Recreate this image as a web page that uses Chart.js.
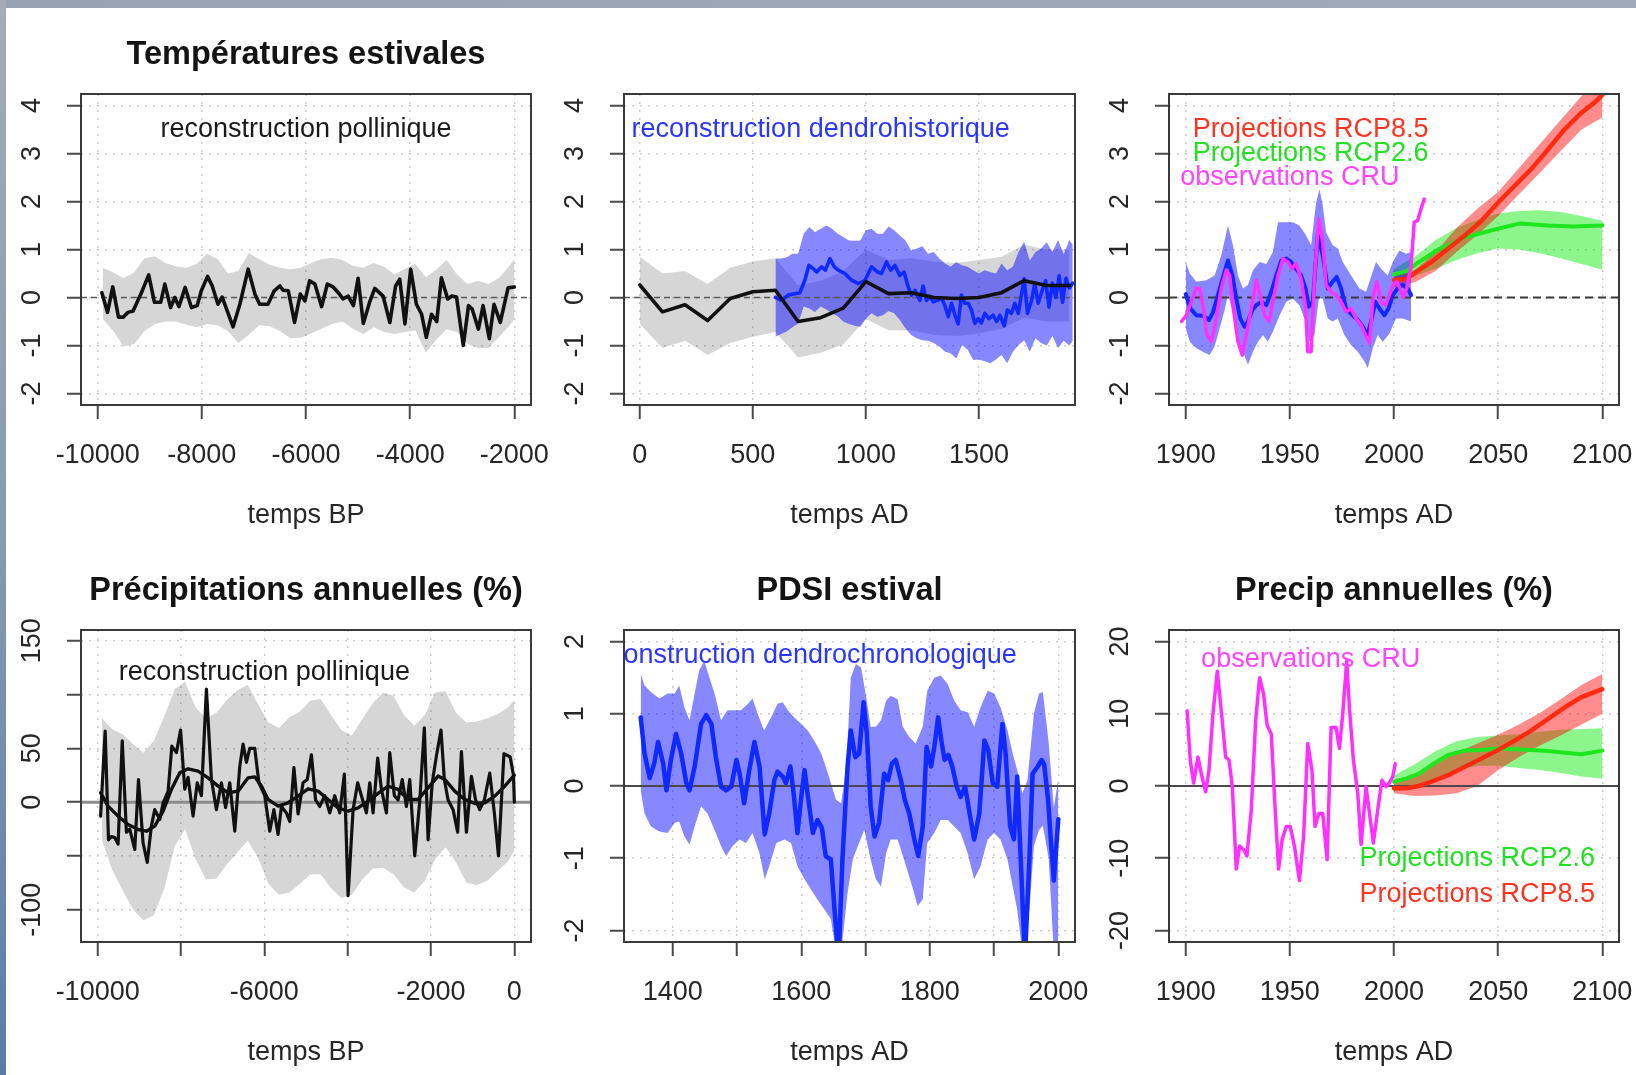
<!DOCTYPE html>
<html><head><meta charset="utf-8">
<script src="https://cdn.jsdelivr.net/npm/chart.js@4/dist/chart.umd.min.js"></script>
<style>
html,body{margin:0;padding:0;width:1636px;height:1075px;overflow:hidden;background:#fff;}
#topbar{position:absolute;left:0;top:0;width:1636px;height:8px;background:linear-gradient(to right,#97a3b2,#9fabb8);}
#leftbar{position:absolute;left:0;top:0;width:6px;height:1075px;background:linear-gradient(to bottom,#a3acb8,#8899b0 50%,#5a7cab);}
canvas{position:absolute;}
</style></head><body>
<div id="topbar"></div><div id="leftbar"></div>
<script>
// ================= DATA =================
// Panel 1 : Températures estivales, reconstruction pollinique (temps BP)
const p1Years = [-9920,-9810,-9710,-9600,-9510,-9420,-9320,-9160,-9020,-8910,-8790,-8710,-8600,-8520,-8440,-8320,-8200,-8090,-8010,-7890,-7800,-7690,-7610,-7400,-7270,-7110,-6980,-6890,-6730,-6610,-6500,-6440,-6340,-6220,-6110,-6020,-5930,-5830,-5700,-5590,-5480,-5380,-5290,-5190,-5090,-5000,-4900,-4770,-4680,-4520,-4390,-4280,-4200,-4100,-3990,-3880,-3780,-3690,-3590,-3490,-3400,-3280,-3200,-3110,-2980,-2880,-2810,-2690,-2600,-2480,-2390,-2270,-2120,-2000];
const p1Temp = [0.10,-0.31,0.22,-0.41,-0.41,-0.31,-0.28,0.10,0.47,-0.10,-0.10,0.28,-0.21,0.0,-0.19,0.21,-0.21,-0.17,0.14,0.44,0.24,-0.14,0.01,-0.61,-0.14,0.59,0.07,-0.14,-0.14,0.14,0.24,0.15,0.14,-0.52,0.07,-0.07,0.35,0.28,-0.19,0.28,0.22,0.10,-0.03,0.03,-0.17,0.40,-0.54,-0.07,0.19,0.03,-0.52,0.24,0.38,-0.55,0.59,-0.14,-0.35,-0.83,-0.35,-0.50,0.41,-0.03,0.03,0.01,-1.0,-0.17,-0.24,-0.66,-0.17,-0.86,-0.14,-0.52,0.2,0.22];
const p1BandYears = [-9900,-9700,-9500,-9300,-9100,-8900,-8700,-8500,-8300,-8100,-7900,-7700,-7500,-7300,-7100,-6900,-6700,-6500,-6300,-6100,-5900,-5700,-5500,-5300,-5100,-4900,-4700,-4500,-4300,-4100,-3900,-3700,-3500,-3300,-3100,-2900,-2700,-2500,-2300,-2100,-2000];
const p1BandHigh = [0.62,0.52,0.40,0.52,0.82,0.86,0.72,0.65,0.62,0.70,0.91,0.80,0.50,0.55,0.92,0.80,0.68,0.62,0.59,0.62,0.72,0.80,0.83,0.78,0.66,0.62,0.72,0.64,0.48,0.60,0.70,0.42,0.58,0.78,0.48,0.28,0.35,0.28,0.40,0.65,0.80];
const p1BandLow = [-0.45,-0.70,-1.02,-0.97,-0.70,-0.55,-0.50,-0.50,-0.57,-0.62,-0.55,-0.58,-0.70,-0.95,-0.78,-0.58,-0.60,-0.70,-0.85,-0.84,-0.75,-0.65,-0.55,-0.50,-0.65,-0.76,-0.62,-0.72,-0.76,-0.72,-0.68,-1.15,-0.88,-0.66,-0.72,-0.97,-1.05,-1.05,-0.83,-0.60,-0.45];

// Panel 2 : reconstruction dendrohistorique (temps AD)
const p2PollenYears = [0,100,200,300,400,500,600,700,800,900,1000,1100,1200,1300,1400,1500,1600,1700,1800,1900];
const p2Pollen = [0.26,-0.30,-0.15,-0.48,-0.02,0.12,0.15,-0.50,-0.42,-0.22,0.33,0.08,0.10,0.0,-0.02,0.0,0.10,0.35,0.25,0.25];
const p2PollenHigh = [0.85,0.5,0.55,0.28,0.62,0.75,0.82,0.25,0.35,0.55,1.0,0.78,0.82,0.75,0.72,0.78,0.85,1.1,1.0,1.0];
const p2PollenLow = [-0.55,-1.05,-0.9,-1.2,-0.95,-0.82,-0.72,-1.25,-1.15,-0.98,-0.45,-0.68,-0.68,-0.78,-0.8,-0.75,-0.65,-0.42,-0.5,-0.5];
const p2DendroYears = [600,627,656,686,708,730,748,767,782,804,821,841,860,878,907,937,966,995,1025,1052,1069,1091,1110,1128,1150,1169,1187,1202,1217,1239,1253,1268,1283,1298,1317,1335,1349,1364,1379,1394,1408,1423,1438,1453,1467,1482,1497,1511,1526,1544,1563,1578,1593,1612,1626,1644,1659,1674,1688,1700,1715,1733,1747,1762,1780,1795,1810,1825,1840,1855,1870,1885,1900,1915];
const p2Dendro = [0.0,-0.06,0.05,0.08,0.10,0.36,0.67,0.60,0.53,0.64,0.57,0.81,0.64,0.57,0.50,0.36,0.29,0.35,0.64,0.53,0.50,0.74,0.57,0.67,0.46,0.53,0.22,0.05,0.15,-0.06,0.24,-0.06,0.03,-0.09,-0.06,-0.02,-0.16,-0.40,-0.12,-0.37,-0.55,0.05,-0.12,-0.12,-0.26,-0.54,-0.44,-0.53,-0.33,-0.44,-0.37,-0.50,-0.37,-0.59,-0.26,-0.33,-0.12,-0.33,0.05,0.39,-0.33,-0.06,0.29,-0.12,0.15,0.35,-0.2,0.3,0.0,0.45,-0.1,0.4,0.2,0.3];
const p2DendroBandYears = [600,625,650,675,700,725,750,775,800,825,850,875,900,925,950,975,1000,1025,1050,1075,1100,1125,1150,1175,1200,1225,1250,1275,1300,1325,1350,1375,1400,1425,1450,1475,1500,1525,1550,1575,1600,1625,1650,1675,1700,1725,1750,1775,1800,1825,1850,1875,1900,1915];
const p2DendroHigh = [0.81,0.81,0.84,0.91,0.91,1.33,1.47,1.36,1.43,1.50,1.43,1.33,1.26,1.19,1.18,1.19,1.40,1.43,1.33,1.33,1.48,1.40,1.29,1.19,0.98,1.02,1.07,0.91,0.95,0.81,0.71,0.64,0.74,0.67,0.64,0.57,0.50,0.57,0.53,0.50,0.71,0.57,0.64,0.95,1.16,0.77,0.95,1.02,1.15,0.95,1.2,0.9,1.2,1.1];
const p2DendroLow = [-0.82,-0.76,-0.71,-0.62,-0.54,-0.19,-0.23,-0.30,-0.19,-0.25,-0.33,-0.39,-0.50,-0.55,-0.59,-0.61,-0.44,-0.33,-0.40,-0.37,-0.28,-0.33,-0.47,-0.64,-0.78,-0.85,-0.89,-0.90,-0.95,-1.02,-1.13,-1.16,-1.27,-0.99,-1.09,-1.30,-1.29,-1.33,-1.37,-1.29,-1.20,-1.37,-1.13,-0.99,-0.89,-1.13,-0.85,-0.95,-1.0,-0.8,-1.05,-0.9,-1.0,-0.9];

// Panel 3 : 1900-2100 temperature, observations + projections
const p3CruYears = [1898,1900.3,1902.7,1905.1,1906.7,1908.3,1910.2,1912.3,1914.7,1917.1,1919.5,1921.1,1922.7,1925.1,1927.2,1929.1,1931.5,1933.9,1935.8,1937.9,1940,1941.9,1944.3,1946.7,1949,1951.1,1953,1955.4,1957.5,1958.6,1960.2,1961.8,1963.9,1965.8,1967.4,1969.8,1972.2,1974.6,1977,1979.4,1981.8,1984.2,1986.3,1988.2,1990.1,1991.7,1993.8,1995.9,1997.8,1999.4,2001.3,2002.9,2004.5,2006.1,2008.2,2009.7,2011.3,2013,2014.5];
const p3Cru = [-0.50,-0.37,-0.09,0.20,0.19,-0.16,-0.78,-0.92,-0.44,0.19,0.57,0.46,-0.16,-0.92,-1.20,-0.78,-0.23,0.36,0.05,-0.37,-0.50,-0.09,0.46,0.81,0.74,0.60,0.71,0.39,-0.16,-1.13,-1.13,0.39,1.64,1.15,0.26,0.12,0.05,-0.09,-0.30,-0.23,-0.44,-0.57,-0.78,-0.95,0.05,0.33,-0.09,-0.16,0.05,0.26,0.33,0.19,0.01,0.19,0.67,1.57,1.60,1.85,2.05];
const p3DendroYears = [1900,1902.3,1905.1,1908.3,1911.2,1913.1,1915.5,1918.2,1920.3,1922.4,1924.3,1926.2,1928.3,1929.9,1932,1933.9,1936.3,1938.7,1941.1,1943.5,1945.9,1948.3,1950.6,1953,1955.4,1957.5,1959.1,1961,1963.4,1965.8,1968.2,1970.6,1972.5,1974.6,1977,1980.2,1982.6,1985,1987.4,1989,1991,1993,1995.4,1997.4,1999.4,2001.8,2004.2,2006.6,2008.2];
const p3Dendro = [0.07,-0.23,-0.37,-0.38,-0.47,-0.31,0.05,0.46,0.77,0.46,-0.02,-0.44,-0.61,-0.50,-0.26,-0.16,-0.09,-0.16,0.12,0.46,0.77,0.81,0.74,0.60,0.46,0.19,-0.19,-0.09,1.3,0.88,0.19,0.33,0.43,0.19,-0.23,-0.37,-0.47,-0.61,-0.78,-0.50,-0.09,-0.23,-0.37,-0.23,0.05,0.19,0.26,0.19,0.05];
const p3DendroHighYears = [1900,1902,1905.1,1909.9,1913.9,1917.1,1920.3,1922.7,1925.1,1927.5,1929.9,1932.3,1935.5,1938.7,1941.9,1944.3,1948.3,1951.4,1954.6,1957.8,1960.2,1962.6,1964.2,1965.8,1967.4,1970.6,1973,1975.4,1979.4,1983.4,1986.6,1989,1991.4,1993.8,1997,1999.4,2002.6,2005.8,2008.2];
const p3DendroHigh = [0.74,0.50,0.33,0.36,0.46,0.88,1.50,1.09,0.46,0.19,0.26,0.57,0.74,0.70,0.95,1.57,1.57,1.57,1.50,1.29,1.09,1.98,2.26,1.92,1.36,1.09,1.02,0.74,0.46,0.19,0.12,0.43,0.74,0.60,0.46,0.74,0.98,0.91,0.95];
const p3DendroLowYears = [1900,1902,1905.1,1908.3,1911.5,1913.9,1916.3,1918.7,1920.3,1922.4,1924.3,1927.5,1929.9,1932.3,1934.7,1937.1,1939.5,1941.9,1945.1,1948.3,1951.4,1954.6,1957.5,1959.4,1961.8,1963.9,1965.8,1968.2,1970.6,1973,1976.2,1979.4,1982.6,1985.8,1987.4,1989.8,1992.2,1994.6,1997.8,2001,2004.2,2008.2];
const p3DendroLow = [-0.64,-0.92,-1.06,-1.13,-1.20,-1.02,-0.64,-0.26,0.05,-0.26,-0.75,-1.13,-1.40,-1.13,-0.92,-0.78,-0.92,-0.71,-0.37,-0.09,-0.02,-0.16,-0.50,-0.92,-0.78,-0.02,-0.02,-0.44,-0.50,-0.44,-0.78,-0.99,-1.13,-1.33,-1.47,-1.06,-0.78,-0.92,-0.75,-0.44,-0.44,-0.50];
const p3Rcp85Years = [2000,2006,2012,2018,2026,2034,2042,2050,2058,2066,2074,2082,2090,2097,2100];
const p3Rcp85 = [0.36,0.39,0.57,0.74,1.02,1.29,1.60,1.98,2.33,2.68,3.09,3.51,3.85,4.09,4.22];
const p3Rcp26Years = [2000,2006,2012,2022,2034,2047,2060,2074,2086,2100];
const p3Rcp26 = [0.48,0.55,0.74,1.02,1.25,1.40,1.54,1.50,1.48,1.50];
const projBandYears = [2000,2010,2020,2030,2040,2050,2060,2070,2080,2090,2100];
const p3Rcp85High = [0.45,0.58,0.95,1.45,1.85,2.2,2.7,3.2,3.7,4.2,4.65];
const p3Rcp85Low = [0.22,0.32,0.55,0.95,1.3,1.7,2.15,2.6,3.05,3.5,3.75];
const p3Rcp26High = [0.6,0.85,1.2,1.45,1.62,1.75,1.8,1.82,1.78,1.7,1.6];
const p3Rcp26Low = [0.33,0.45,0.6,0.78,0.92,1.02,1.0,0.92,0.82,0.7,0.58];

// Panel 4 : Précipitations annuelles (%), reconstruction pollinique
const p4RawYears = [-9930,-9820,-9740,-9670,-9590,-9510,-9410,-9310,-9230,-9110,-9020,-8910,-8810,-8710,-8630,-8510,-8430,-8310,-8220,-8110,-8010,-7910,-7830,-7710,-7610,-7510,-7390,-7270,-7150,-7030,-6930,-6830,-6710,-6590,-6510,-6430,-6350,-6230,-6130,-5990,-5870,-5770,-5670,-5590,-5470,-5390,-5290,-5190,-5070,-4970,-4870,-4770,-4670,-4550,-4430,-4310,-4190,-4080,-3990,-3870,-3760,-3670,-3550,-3470,-3390,-3280,-3190,-3070,-2990,-2880,-2790,-2690,-2590,-2510,-2390,-2270,-2160,-2070,-1970,-1870,-1760,-1680,-1590,-1470,-1360,-1270,-1150,-1030,-930,-830,-720,-590,-480,-380,-250,-100,-20,0];
const p4Raw = [-13,66,-35,-32,-33,-39,57,-28,-25,-44,21,-38,-56,-22,-7,-16,-1,10,52,46,67,12,23,-13,18,6,105,21,-7,18,-5,18,-27,33,54,37,50,50,18,6,-27,-7,-30,-4,-10,-18,32,-11,18,21,44,2,-4,6,-10,6,-10,26,-87,-7,18,6,-10,18,-10,41,12,-10,46,6,2,21,-4,21,-50,1,69,-35,18,43,67,21,2,-7,-28,47,-28,24,2,-7,2,27,-10,-50,45,42,25,0];
const p4SmoothYears = [-9930,-9750,-9510,-9270,-9030,-8830,-8630,-8430,-8230,-8030,-7830,-7590,-7350,-7110,-6870,-6630,-6390,-6230,-6070,-5910,-5670,-5430,-5190,-4950,-4710,-4470,-4230,-3990,-3750,-3510,-3270,-3030,-2790,-2550,-2310,-2070,-1830,-1670,-1430,-1190,-950,-710,-470,-250,0];
const p4Smooth = [8.7,-3.7,-13,-20.8,-25.4,-27,-22.3,-8.4,11.8,27.3,31,28.8,22.6,14.9,8.7,10.2,22.6,23.5,14.9,2.5,-3.7,-0.6,5.6,12.4,10.2,2.5,-5.3,-8.4,-5.3,0.9,8.1,14.9,11.8,2.5,2.5,13.3,24.2,21.1,10.2,2.5,-1.2,-0.6,5.6,14,25];
const p4BandYears = [-9900,-9650,-9400,-9150,-8900,-8650,-8400,-8150,-7900,-7650,-7400,-7150,-6900,-6650,-6400,-6150,-5900,-5650,-5400,-5150,-4900,-4650,-4400,-4150,-3900,-3650,-3400,-3150,-2900,-2650,-2400,-2150,-1900,-1650,-1400,-1150,-900,-650,-400,-150,0];
const p4BandHigh = [78,68,63,54,46,57,80,105,112,88,78,83,95,104,109,91,74,69,79,84,94,96,81,67,62,77,92,102,99,81,71,81,102,103,83,74,75,78,82,88,95];
const p4BandLow = [-35,-63,-82,-100,-110,-105,-80,-41,-25,-53,-72,-71,-58,-47,-36,-52,-76,-86,-84,-76,-67,-67,-80,-89,-86,-72,-62,-61,-67,-79,-84,-73,-53,-42,-56,-75,-77,-73,-64,-55,-45];

// Panel 5 : PDSI estival, reconstruction dendrochronologique
const p5Years = [1350,1356,1364,1371,1377,1385,1390,1397,1405,1413,1421,1426,1434,1444,1452,1460,1467,1475,1483,1491,1499,1504,1511,1519,1527,1535,1543,1550,1558,1563,1571,1576,1583,1588,1594,1600,1605,1611,1618,1625,1632,1638,1646,1652,1658,1664,1672,1677,1684,1690,1697,1702,1708,1714,1721,1729,1735,1741,1747,1755,1761,1768,1776,1782,1789,1795,1802,1807,1813,1818,1823,1829,1835,1842,1848,1855,1861,1869,1877,1885,1891,1898,1905,1913,1918,1925,1931,1936,1942,1948,1955,1960,1968,1974,1978,1984,1988,1993,2000];
const p5Pdsi = [0.95,0.45,0.11,0.31,0.61,0.31,-0.06,0.36,0.72,0.45,0.04,-0.06,0.27,0.86,0.98,0.86,0.40,-0.01,-0.06,-0.01,0.36,0.17,-0.24,0.22,0.61,0.27,-0.67,-0.38,0.08,0.20,0.13,0.04,0.27,-0.10,-0.65,-0.15,0.22,-0.19,-0.65,-0.47,-0.58,-0.97,-1.02,-1.75,-2.4,-1.02,0.27,0.77,0.40,0.45,1.16,0.72,-0.28,-0.70,-0.51,0.17,0.08,0.31,0.36,0.08,-0.19,-0.38,-0.74,-0.97,-0.56,0.54,0.27,0.54,0.95,0.63,0.36,0.43,0.27,-0.01,-0.15,-0.01,-0.33,-0.74,-0.38,0.63,0.50,0.04,-0.01,0.86,0.45,-0.56,-0.74,0.13,-1.11,-2.4,-1.02,0.17,0.27,0.36,0.3,-0.18,-0.7,-1.31,-0.46];
const p5HighYears = [1350,1356,1366,1379,1392,1403,1410,1418,1426,1434,1441,1449,1457,1465,1475,1485,1496,1506,1517,1524,1532,1542,1553,1563,1571,1579,1589,1600,1610,1620,1631,1638,1646,1654,1662,1670,1677,1685,1693,1701,1708,1716,1724,1732,1739,1750,1758,1768,1778,1789,1796,1807,1817,1828,1838,1848,1859,1869,1879,1890,1900,1910,1921,1929,1936,1944,1952,1962,1970,1976,1985,1993,2000];
const p5High = [1.55,1.39,1.30,1.21,1.28,1.28,1.39,1.09,0.91,1.28,1.60,1.73,1.50,1.28,0.91,1.05,1.05,1.05,1.14,1.21,1.0,0.77,0.95,1.14,1.16,1.05,0.95,0.86,0.77,0.63,0.45,0.27,0.04,-0.19,-0.24,0.27,1.5,1.69,1.64,1.23,0.82,0.82,0.91,1.18,1.25,1.2,0.82,0.68,0.59,0.82,1.32,1.5,1.53,1.41,1.18,1.05,1.02,0.82,1.09,1.32,1.28,1.09,0.77,0.45,0.22,-0.10,0.08,1.0,1.28,1.3,0.6,-0.3,0.1];
const p5LowYears = [1350,1356,1366,1379,1392,1403,1410,1418,1426,1434,1444,1454,1465,1475,1483,1493,1504,1514,1524,1535,1543,1550,1561,1574,1584,1594,1605,1615,1625,1636,1646,1654,1662,1672,1680,1688,1698,1708,1716,1724,1732,1739,1750,1760,1771,1781,1789,1796,1807,1817,1828,1838,1848,1859,1869,1879,1890,1900,1910,1921,1929,1936,1944,1955,1962,1970,1976,1985,1993,2000];
const p5Low = [-0.06,-0.38,-0.56,-0.63,-0.65,-0.51,-0.49,-0.70,-0.81,-0.56,-0.28,-0.38,-0.61,-0.83,-0.97,-0.83,-0.74,-0.79,-0.65,-0.93,-1.29,-1.11,-0.79,-0.74,-0.79,-1.11,-1.29,-1.43,-1.57,-1.71,-1.84,-2.3,-2.3,-1.48,-1.02,-0.83,-0.61,-1.02,-1.29,-1.39,-0.93,-0.74,-0.74,-1.02,-1.34,-1.66,-1.57,-0.79,-0.65,-0.47,-0.47,-0.56,-0.65,-0.93,-1.29,-1.11,-0.74,-0.65,-0.74,-1.02,-1.39,-1.71,-2.3,-1.71,-0.83,-0.61,-0.55,-1.0,-2.3,-2.3];

// Panel 6 : Precip annuelles (%), observations + projections
const p6CruYears = [1900.7,1902.2,1903.8,1905.9,1907.5,1909.6,1911.2,1913.1,1915.2,1917.1,1919.2,1920.8,1922.4,1924.3,1925.9,1927.8,1929.4,1931.5,1933.6,1935.5,1937.4,1939.1,1941.1,1942.7,1944.6,1946.3,1948.3,1950.2,1952.2,1954.6,1956.6,1958.6,1960.6,1962.1,1963.9,1965.8,1967.9,1969.8,1972.2,1973.8,1975.4,1977.3,1978.6,1980.5,1982.6,1984.2,1986.6,1990.1,1992.2,1994.2,1996.2,1998.1,1999.4,2000.6];
const p6Cru = [10.4,3.6,0.4,4.0,1.7,-0.8,2.2,10.0,15.9,10.4,4.0,3.6,-0.1,-11.5,-8.3,-8.8,-9.7,-3.3,9.1,15.0,12.7,8.4,7.2,-1.9,-11.5,-7.4,-5.6,-5.6,-8.3,-13.1,-7.0,5.9,2.2,-5.6,-3.8,-3.8,-10.2,8.1,8.1,5.2,10.0,17.3,10.9,3.6,-1.0,-8.1,-0.1,-7.9,-3.3,0.8,-0.1,0.6,1.3,3.1];
const p6ProjYears = [2000,2006,2012,2018,2026,2034,2042,2050,2058,2066,2074,2082,2090,2100];
const p6Rcp26 = [0.6,1.05,1.7,2.9,4.3,4.9,5.0,5.2,5.1,5.0,4.85,4.6,4.4,4.9];
const p6Rcp85 = [-0.3,-0.3,0.0,0.6,1.5,2.65,3.8,5.0,6.3,7.7,9.3,10.9,12.3,13.4];
const p6Rcp26High = [1.5,3.0,4.8,6.2,6.8,7.0,7.2,7.5,7.8,7.9,8.0];
const p6Rcp26Low = [-0.8,-0.3,0.8,2.2,2.8,2.8,2.5,2.2,1.8,1.3,1.0];
const p6Rcp85High = [0.3,1.2,3.0,4.6,5.9,7.1,8.5,10.1,12.0,14.0,15.5];
const p6Rcp85Low = [-1.0,-1.4,-1.3,-1.0,0.0,2.2,4.0,5.6,7.0,8.5,10.0];

// Axis ticks and labels
const bpXTicks = [-10000,-8000,-6000,-4000,-2000];
const bpXLabels = ['-10000','-8000','-6000','-4000','-2000'];
const adXTicks = [0,500,1000,1500];
const adXLabels = ['0','500','1000','1500'];
const modXTicks = [1900,1950,2000,2050,2100];
const modXLabels = ['1900','1950','2000','2050','2100'];
const tempYTicks = [-2,-1,0,1,2,3,4];
const tempYLabels = ['-2','-1','0','1','2','3','4'];
const bp2XTicks = [-10000,-8000,-6000,-4000,-2000,0];
const bp2XLabels = ['-10000','','-6000','','-2000','0'];
const precYTicks = [-100,-50,0,50,100,150];
const precYLabels = ['-100','','0','50','','150'];
const pdsiXTicks = [1400,1500,1600,1700,1800,1900,2000];
const pdsiXLabels = ['1400','','1600','','1800','','2000'];
const pdsiYTicks = [-2,-1,0,1,2];
const pdsiYLabels = ['-2','-1','0','1','2'];
const prYTicks = [-20,-10,0,10,20];
const prYLabels = ['-20','-10','0','10','20'];

// ================= STYLE =================
const FONT = "'Liberation Sans', Arial, Helvetica, sans-serif";
Chart.defaults.font.family = FONT;
Chart.defaults.animation = false;
const LBL = 27, TTL = 32.5;
const AXL = 80, TOP = 94, AXB = 130, RP = 40;
const GRAY = 'rgba(0,0,0,0.16)';
const BLUEBAND = 'rgba(0,0,255,0.47)';
const GREENBAND = 'rgba(0,235,0,0.45)';
const REDBAND = 'rgba(255,0,0,0.45)';
const BLUE = '#1029ff', MAG = '#ff30ff', RED = '#ff2a10', GREEN = '#1ee61e', BLACK = '#111';
const TXT = '#262626';

const mctx = document.createElement('canvas').getContext('2d');
function textW(t){ mctx.font = LBL + 'px ' + FONT; return mctx.measureText(t).width; }
function pts(xs, ys){ return xs.map((x, i) => ({x: x, y: ys[i]})); }

const boxPlugin = {
  id: 'rbox',
  afterDraw(chart){
    const a = chart.chartArea, ctx = chart.ctx;
    ctx.save(); ctx.strokeStyle = '#3a3a3a'; ctx.lineWidth = 2;
    ctx.strokeRect(a.left, a.top, a.right - a.left, a.bottom - a.top);
    ctx.restore();
  }
};
const notePlugin = {
  id: 'notes',
  afterDatasetsDraw(chart, args, opts){
    const items = (opts && opts.items) || [];
    const a = chart.chartArea, ctx = chart.ctx;
    ctx.save();
    ctx.beginPath(); ctx.rect(a.left, a.top, a.right - a.left, a.bottom - a.top); ctx.clip();
    ctx.font = LBL + 'px ' + FONT; ctx.textAlign = 'center'; ctx.textBaseline = 'middle';
    items.forEach(n => {
      ctx.fillStyle = n.color;
      ctx.fillText(n.text, chart.scales.x.getPixelForValue(n.x), chart.scales.y.getPixelForValue(n.y));
    });
    ctx.restore();
  }
};

function makePanel(p){
  const c = document.createElement('canvas');
  c.width = AXL + p.box.w + RP; c.height = TOP + p.box.h + AXB;
  c.style.left = (p.box.l - AXL) + 'px'; c.style.top = (p.box.t - TOP) + 'px';
  document.body.appendChild(c);
  const widest = Math.max.apply(null, p.yLabels.map(textW));
  const yPad = 48 - 14 - widest / 2;

  const layers = [];
  p.bands.forEach(b => {
    layers.push({data: pts(b.xl, b.yl), borderWidth: 0, pointRadius: 0, fill: false});
    layers.push({data: pts(b.xu, b.yu), borderWidth: 0, pointRadius: 0, backgroundColor: b.color, fill: {target: layers.length - 1}});
  });
  layers.push({data: [{x: p.xMin, y: 0}, {x: p.xMax, y: 0}], borderColor: p.zero.color, borderWidth: p.zero.width, borderDash: p.zero.dash, pointRadius: 0, fill: false});
  p.lines.forEach(l => {
    layers.push({data: pts(l.x, l.y), borderColor: l.color, borderWidth: l.width, pointRadius: 0, fill: false, tension: 0, borderJoinStyle: 'round', borderCapStyle: 'round'});
  });
  const N = layers.length;
  layers.forEach((d, i) => { d.order = N - i; });

  const gridCommon = {color: '#cdcdcd', lineWidth: 1.5, drawTicks: true, tickLength: 14, tickColor: '#4a4a4a', tickWidth: 2, tickBorderDash: []};
  new Chart(c, {
    type: 'line',
    data: {datasets: layers},
    plugins: [boxPlugin, notePlugin],
    options: {
      responsive: false, animation: false, events: [],
      layout: {padding: {top: p.title ? 35.8 : TOP, right: RP, left: 0, bottom: 0}},
      plugins: {
        legend: {display: false}, tooltip: {enabled: false},
        title: p.title ? {display: true, text: p.title, fullSize: false, color: '#141414', font: {size: TTL, weight: 'bold'}, padding: {top: 0, bottom: 19.2}} : {display: false},
        notes: {items: p.notes}
      },
      scales: {
        x: {
          type: 'linear', min: p.xMin, max: p.xMax,
          afterBuildTicks: s => { s.ticks = p.xTicks.map(v => ({value: v})); },
          afterFit: s => { s.height = AXB; s.paddingLeft = 0; s.paddingRight = 0; },
          ticks: {autoSkip: false, maxRotation: 0, minRotation: 0, padding: 20.4, color: TXT, font: {size: LBL}, callback: (v, i) => p.xLabels[i]},
          grid: gridCommon,
          border: {display: false, dash: [2, 6]},
          title: {display: true, text: p.xTitle, color: TXT, font: {size: LBL}, padding: {top: 0, bottom: 3.4}}
        },
        y: {
          type: 'linear', min: p.yMin, max: p.yMax,
          afterBuildTicks: s => { s.ticks = p.yTicks.map(v => ({value: v})); },
          afterFit: s => { s.width = AXL; s.paddingTop = 0; s.paddingBottom = 0; },
          ticks: {autoSkip: false, minRotation: 90, maxRotation: 90, crossAlign: 'center', padding: yPad, color: TXT, font: {size: LBL}, callback: (v, i) => p.yLabels[i]},
          grid: gridCommon,
          border: {display: false, dash: [2, 6]}
        }
      }
    }
  });
}

const panels = [
  { box: {l: 81, t: 94, w: 450, h: 311}, title: 'Températures estivales', xTitle: 'temps BP',
    xMin: -10320, xMax: -1680, yMin: -2.24, yMax: 4.24,
    xTicks: bpXTicks, xLabels: bpXLabels, yTicks: tempYTicks, yLabels: tempYLabels,
    zero: {color: '#5a5a5a', width: 1.5, dash: [6, 4]},
    bands: [{xu: p1BandYears, yu: p1BandHigh, xl: p1BandYears, yl: p1BandLow, color: GRAY}],
    lines: [{x: p1Years, y: p1Temp, color: BLACK, width: 3.6}],
    notes: [{text: 'reconstruction pollinique', x: -6000, y: 3.5, color: '#1a1a1a'}] },
  { box: {l: 624, t: 94, w: 451, h: 311}, title: null, xTitle: 'temps AD',
    xMin: -70, xMax: 1925, yMin: -2.24, yMax: 4.24,
    xTicks: adXTicks, xLabels: adXLabels, yTicks: tempYTicks, yLabels: tempYLabels,
    zero: {color: '#5a5a5a', width: 1.5, dash: [6, 4]},
    bands: [{xu: p2PollenYears, yu: p2PollenHigh, xl: p2PollenYears, yl: p2PollenLow, color: GRAY},
            {xu: p2DendroBandYears, yu: p2DendroHigh, xl: p2DendroBandYears, yl: p2DendroLow, color: BLUEBAND}],
    lines: [{x: p2DendroYears, y: p2Dendro, color: BLUE, width: 3.6}, {x: p2PollenYears, y: p2Pollen, color: BLACK, width: 3.6}],
    notes: [{text: 'reconstruction dendrohistorique', x: 800, y: 3.5, color: '#2a36ff'}] },
  { box: {l: 1169, t: 94, w: 450, h: 311}, title: null, xTitle: 'temps AD',
    xMin: 1892, xMax: 2108, yMin: -2.24, yMax: 4.24,
    xTicks: modXTicks, xLabels: modXLabels, yTicks: tempYTicks, yLabels: tempYLabels,
    zero: {color: '#3a3a3a', width: 2, dash: [8, 5]},
    bands: [{xu: projBandYears, yu: p3Rcp26High, xl: projBandYears, yl: p3Rcp26Low, color: GREENBAND},
            {xu: projBandYears, yu: p3Rcp85High, xl: projBandYears, yl: p3Rcp85Low, color: REDBAND},
            {xu: p3DendroHighYears, yu: p3DendroHigh, xl: p3DendroLowYears, yl: p3DendroLow, color: BLUEBAND}],
    lines: [{x: p3Rcp26Years, y: p3Rcp26, color: GREEN, width: 4}, {x: p3Rcp85Years, y: p3Rcp85, color: RED, width: 4.5},
            {x: p3DendroYears, y: p3Dendro, color: BLUE, width: 4}, {x: p3CruYears, y: p3Cru, color: MAG, width: 3.5}],
    notes: [{text: 'Projections RCP8.5', x: 1960, y: 3.5, color: '#ff3322'},
            {text: 'Projections RCP2.6', x: 1960, y: 3.0, color: '#22e022'},
            {text: 'observations CRU', x: 1950, y: 2.5, color: '#ff44ff'}] },
  { box: {l: 81, t: 630, w: 450, h: 312}, title: 'Précipitations annuelles (%)', xTitle: 'temps BP',
    xMin: -10400, xMax: 400, yMin: -130, yMax: 160,
    xTicks: bp2XTicks, xLabels: bp2XLabels, yTicks: precYTicks, yLabels: precYLabels,
    zero: {color: '#8c8c8c', width: 3, dash: []},
    bands: [{xu: p4BandYears, yu: p4BandHigh, xl: p4BandYears, yl: p4BandLow, color: GRAY}],
    lines: [{x: p4SmoothYears, y: p4Smooth, color: BLACK, width: 3.4}, {x: p4RawYears, y: p4Raw, color: BLACK, width: 3.2}],
    notes: [{text: 'reconstruction pollinique', x: -6000, y: 120, color: '#1a1a1a'}] },
  { box: {l: 624, t: 630, w: 451, h: 312}, title: 'PDSI estival', xTitle: 'temps AD',
    xMin: 1324, xMax: 2026, yMin: -2.16, yMax: 2.16,
    xTicks: pdsiXTicks, xLabels: pdsiXLabels, yTicks: pdsiYTicks, yLabels: pdsiYLabels,
    zero: {color: '#4a4a4a', width: 2, dash: []},
    bands: [{xu: p5HighYears, yu: p5High, xl: p5LowYears, yl: p5Low, color: BLUEBAND}],
    lines: [{x: p5Years, y: p5Pdsi, color: BLUE, width: 4.5}],
    notes: [{text: 'reconstruction dendrochronologique', x: 1600, y: 1.8, color: '#2a36ff'}] },
  { box: {l: 1169, t: 630, w: 450, h: 312}, title: 'Precip annuelles (%)', xTitle: 'temps AD',
    xMin: 1892, xMax: 2108, yMin: -21.6, yMax: 21.6,
    xTicks: modXTicks, xLabels: modXLabels, yTicks: prYTicks, yLabels: prYLabels,
    zero: {color: '#4a4a4a', width: 2, dash: []},
    bands: [{xu: projBandYears, yu: p6Rcp26High, xl: projBandYears, yl: p6Rcp26Low, color: GREENBAND},
            {xu: projBandYears, yu: p6Rcp85High, xl: projBandYears, yl: p6Rcp85Low, color: REDBAND}],
    lines: [{x: p6ProjYears, y: p6Rcp26, color: GREEN, width: 4}, {x: p6ProjYears, y: p6Rcp85, color: RED, width: 4.5},
            {x: p6CruYears, y: p6Cru, color: MAG, width: 3.5}],
    notes: [{text: 'observations CRU', x: 1960, y: 17.5, color: '#ff44ff'},
            {text: 'Projections RCP2.6', x: 2040, y: -10, color: '#22e022'},
            {text: 'Projections RCP8.5', x: 2040, y: -15, color: '#ff3322'}] }
];
panels.forEach(makePanel);
</script>
</body></html>
